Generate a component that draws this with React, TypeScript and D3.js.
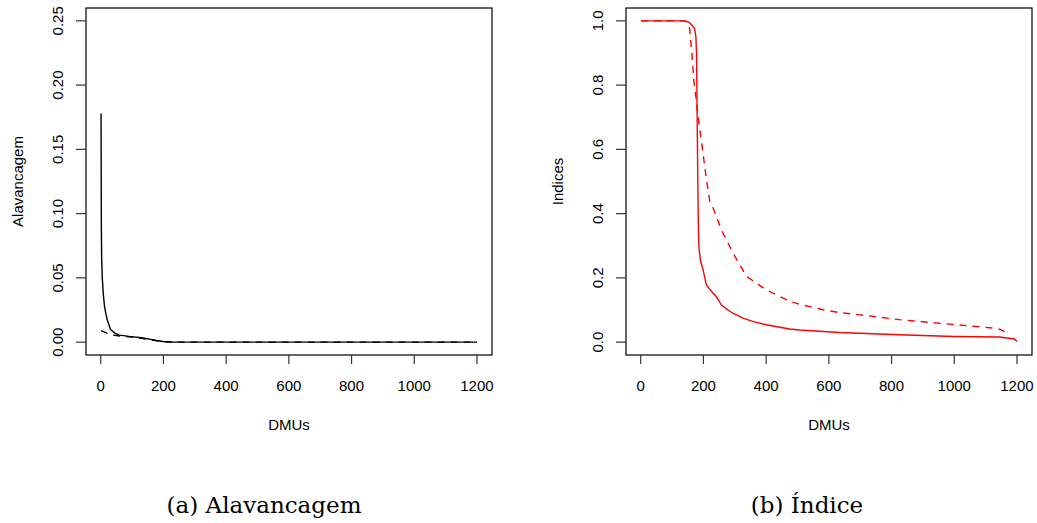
import React from "react";
import * as d3 from "d3";

const xTicks = [0, 200, 400, 600, 800, 1000, 1200];
const leftYTicks = [0, 0.05, 0.1, 0.15, 0.2, 0.25];
const rightYTicks = [0, 0.2, 0.4, 0.6, 0.8, 1.0];

const alavSolidDMU = [1, 2, 3, 5, 8, 12, 15, 20, 31, 45, 60, 90, 130, 160, 178, 199, 230, 300, 1200];
const alavSolidVal = [0.178, 0.09, 0.065, 0.05, 0.038, 0.028, 0.024, 0.018, 0.0099, 0.007, 0.0055, 0.0045, 0.0034, 0.0022, 0.0013, 0.0005, 0.0001, 0, 0];
const alavDashDMU = [1, 30, 60, 100, 130, 160, 190, 220, 1200];
const alavDashVal = [0.009, 0.0058, 0.0048, 0.004, 0.003, 0.0018, 0.0006, 0, 0];

const indSolidDMU = [1, 140, 155, 165, 172, 176, 178, 180, 182, 184, 186, 191, 199, 209, 220, 230, 241, 257, 275, 294, 326, 360, 400, 475, 507, 634, 825, 1000, 1144, 1192, 1200];
const indSolidVal = [1, 1, 0.995, 0.985, 0.975, 0.95, 0.9, 0.7, 0.5, 0.35, 0.29, 0.251, 0.225, 0.179, 0.165, 0.153, 0.142, 0.116, 0.102, 0.09, 0.075, 0.064, 0.054, 0.041, 0.038, 0.03, 0.023, 0.0175, 0.016, 0.01, 0.002];
const indDashDMU = [1, 140, 150, 156, 163, 170, 177, 183, 193, 204, 209, 220, 230, 257, 294, 337, 400, 475, 507, 581, 634, 700, 825, 985, 1123, 1144, 1155, 1165];
const indDashVal = [1, 1, 0.995, 0.975, 0.9, 0.808, 0.754, 0.7, 0.631, 0.548, 0.51, 0.44, 0.42, 0.35, 0.278, 0.205, 0.163, 0.127, 0.118, 0.101, 0.092, 0.085, 0.07, 0.056, 0.044, 0.04, 0.036, 0.028];

const FONT = "'Liberation Sans', Arial, Helvetica, sans-serif";

type PanelProps = {
  left: number;
  yDomain: [number, number];
  yTicks: number[];
  yFmt: (v: number) => string;
  yTitle: string;
  color: string;
  solid: [number[], number[]];
  dashed: [number[], number[]];
};

function Panel({ left, yDomain, yTicks, yFmt, yTitle, color, solid, dashed }: PanelProps) {
  const top = 8;
  const bottom = 355;
  const width = 406;
  const x = d3.scaleLinear().domain([1 - 0.04 * 1199, 1200 + 0.04 * 1199]).range([left, left + width]);
  const y = d3.scaleLinear().domain(yDomain).range([bottom, top]);
  const line = d3
    .line<[number, number]>()
    .x((d) => x(d[0]))
    .y((d) => y(d[1]));
  const toPts = (s: [number[], number[]]) => s[0].map((v, i) => [v, s[1][i]] as [number, number]);
  return (
    <g>
      <rect x={left} y={top} width={width} height={bottom - top} fill="none" stroke="#000" strokeWidth={1.2} />
      {xTicks.map((t) => (
        <g key={"x" + t}>
          <line x1={x(t)} x2={x(t)} y1={bottom} y2={bottom + 9} stroke="#333" strokeWidth={1.2} />
          <text x={x(t)} y={391} textAnchor="middle" fontFamily={FONT} fontSize={15} fill="#000">
            {t}
          </text>
        </g>
      ))}
      {yTicks.map((t) => (
        <g key={"y" + t}>
          <line x1={left - 10} x2={left} y1={y(t)} y2={y(t)} stroke="#333" strokeWidth={1.2} />
          <text
            transform={`translate(${left - 23},${y(t)}) rotate(-90)`}
            textAnchor="middle"
            fontFamily={FONT}
            fontSize={15}
            fill="#000"
          >
            {yFmt(t)}
          </text>
        </g>
      ))}
      <text x={left + width / 2} y={430} textAnchor="middle" fontFamily={FONT} fontSize={15} fill="#000">
        DMUs
      </text>
      <text
        transform={`translate(${left - 63},${(top + bottom) / 2}) rotate(-90)`}
        textAnchor="middle"
        fontFamily={FONT}
        fontSize={15}
        fill="#000"
      >
        {yTitle}
      </text>
      <path d={line(toPts(dashed)) || ""} fill="none" stroke={color} strokeWidth={1.4} strokeDasharray="7,6" />
      <path d={line(toPts(solid)) || ""} fill="none" stroke={color} strokeWidth={1.4} />
    </g>
  );
}

export default function App() {
  return (
    <svg width={1037} height={523} style={{ position: "absolute", left: 0, top: 0, background: "#fff" }}>
      <rect x={0} y={0} width={1037} height={523} fill="#fff" />
      <Panel
        left={86}
        yDomain={[-0.01, 0.26]}
        yTicks={leftYTicks}
        yFmt={(v) => v.toFixed(2)}
        yTitle="Alavancagem"
        color="#000"
        solid={[alavSolidDMU, alavSolidVal]}
        dashed={[alavDashDMU, alavDashVal]}
      />
      <Panel
        left={626}
        yDomain={[-0.04, 1.04]}
        yTicks={rightYTicks}
        yFmt={(v) => v.toFixed(1)}
        yTitle="Indices"
        color="#ff0000"
        solid={[indSolidDMU, indSolidVal]}
        dashed={[indDashDMU, indDashVal]}
      />
      <text x={264} y={513} textAnchor="middle" fontFamily="'DejaVu Serif', serif" fontSize={23} fontWeight={300} fill="#000">
        (a) Alavancagem
      </text>
      <text x={807} y={513} textAnchor="middle" fontFamily="'DejaVu Serif', serif" fontSize={23} fontWeight={300} fill="#000">
        (b) Índice
      </text>
    </svg>
  );
}
